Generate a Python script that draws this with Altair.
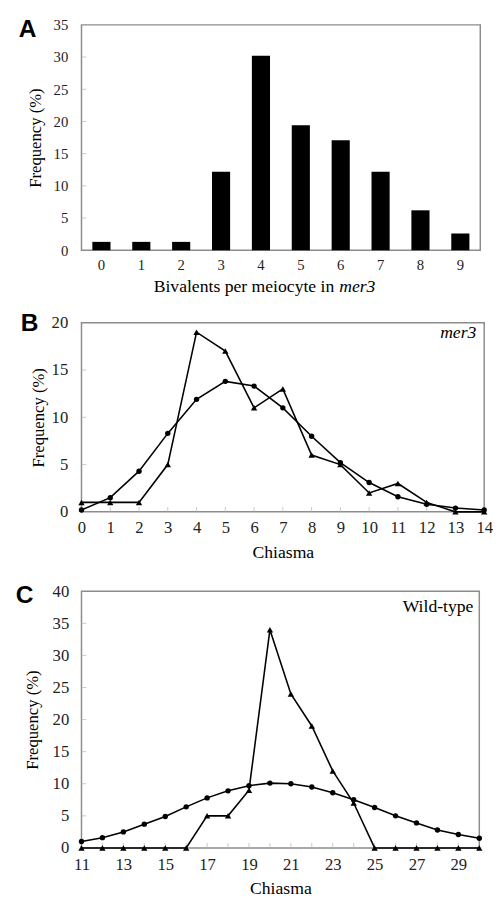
import altair as alt
import pandas as pd

# ---------------- data ----------------
a_bivalents = [0, 1, 2, 3, 4, 5, 6, 7, 8, 9]
a_freq = [1.3, 1.3, 1.3, 12.2, 30.2, 19.4, 17.1, 12.2, 6.2, 2.6]
a_yticks = [0, 5, 10, 15, 20, 25, 30, 35]

b_chiasma = [0, 1, 2, 3, 4, 5, 6, 7, 8, 9, 10, 11, 12, 13, 14]
b_circle = [0.2, 1.5, 4.3, 8.3, 11.9, 13.8, 13.3, 11.0, 8.0, 5.2, 3.1, 1.6, 0.8, 0.4, 0.2]
b_triangle = [1, 1, 1, 5, 19, 17, 11, 13, 6, 5, 2, 3, 1, 0, 0]
b_yticks = [0, 5, 10, 15, 20]

c_chiasma = [11, 12, 13, 14, 15, 16, 17, 18, 19, 20, 21, 22, 23, 24, 25, 26, 27, 28, 29, 30]
c_circle = [1.0, 1.6, 2.5, 3.7, 4.9, 6.4, 7.8, 8.9, 9.7, 10.1, 10.0, 9.5, 8.6, 7.5, 6.3, 5.0, 3.9, 2.8, 2.1, 1.5]
c_triangle = [0, 0, 0, 0, 0, 0, 5, 5, 9, 34, 24, 19, 12, 7, 0, 0, 0, 0, 0, 0]
c_xlabels = [11, 13, 15, 17, 19, 21, 23, 25, 27, 29]
c_yticks = [0, 5, 10, 15, 20, 25, 30, 35, 40]

SERIF = "Liberation Serif"
SANS = "Liberation Sans"
FRAME = "#8c8c8c"
TICKC = "#b4b4b4"


def letter(ch, x, y):
    return alt.Chart(pd.DataFrame({"t": [ch]})).mark_text(
        text=ch, font=SANS, fontWeight="bold", fontSize=25, align="left",
        baseline="alphabetic", color="black"
    ).encode(x=alt.value(x), y=alt.value(y))


def label(txt, x, y, align="right", italic=False, baseline="alphabetic", size=18):
    kw = dict(text=txt, font=SERIF, fontSize=size, align=align, baseline=baseline, color="black")
    if italic:
        kw["fontStyle"] = "italic"
    return alt.Chart(pd.DataFrame({"t": [txt]})).mark_text(**kw).encode(
        x=alt.value(x), y=alt.value(y))


def yaxis(vals, size, pad, tpad):
    return alt.Axis(values=vals, title="Frequency (%)", titleFont=SERIF, titleFontSize=17,
                    titleFontWeight="normal", titleColor="black", titlePadding=tpad,
                    labelFont=SERIF, labelFontSize=size, labelColor="#222", labelPadding=pad,
                    ticks=False, domain=False, grid=False, labelFlush=False, labelOverlap=False)


def xaxis(vals, size, pad, tpad):
    return alt.Axis(values=vals, title="Chiasma", titleFont=SERIF, titleFontSize=18,
                    titleFontWeight="normal", titleColor="black", titlePadding=tpad,
                    labelFont=SERIF, labelFontSize=size, labelColor="#222", labelPadding=pad,
                    ticks=False, domain=False, grid=False, labelFlush=False, labelOverlap=False,
                    labelAngle=0)


# ---------------- panel A ----------------
WA, HA = 407, 230
dfA = pd.DataFrame({"bivalents": a_bivalents, "freq": a_freq})
yA_scale = alt.Scale(domain=[0, 35], nice=False)
yA_axis = yaxis(a_yticks, 15, 14, 9)
barsA = alt.Chart(dfA).mark_bar(color="black", size=18.5).encode(
    x=alt.X("bivalents:O", scale=alt.Scale(paddingInner=0, paddingOuter=0),
            axis=alt.Axis(title=None, labelFont=SERIF, labelFontSize=15, labelColor="#222",
                          labelPadding=7.5, ticks=False, domain=False, grid=False, labelAngle=0)),
    y=alt.Y("freq:Q", scale=yA_scale, axis=yA_axis),
)
ticksA = alt.Chart(pd.DataFrame({"freq": a_yticks[1:-1]})).mark_tick(
    orient="horizontal", color=TICKC, size=5, thickness=1
).encode(x=alt.value(2.5), y=alt.Y("freq:Q", scale=yA_scale, axis=yA_axis))
chartA = alt.layer(
    ticksA, barsA,
    letter("A", -64, 12),
    label("Bivalents per meiocyte in", 258, 273, align="right"),
    label("mer3", 263, 273, align="left", italic=True),
).properties(width=WA, height=HA)

# ---------------- panel B ----------------
WB, HB = 411, 193
dfB = pd.DataFrame({
    "chiasma": b_chiasma + b_chiasma,
    "freq": b_circle + b_triangle,
    "series": ["circle"] * len(b_chiasma) + ["triangle"] * len(b_chiasma),
})
xB_scale = alt.Scale(domain=[0, 14], nice=False)
yB_scale = alt.Scale(domain=[0, 20], nice=False)
xB_axis = xaxis(b_chiasma, 17, 8, 9)
yB_axis = yaxis(b_yticks, 17, 14, 4)
shape_enc = alt.Shape("series:N", scale=alt.Scale(domain=["circle", "triangle"],
                                                   range=["circle", "triangle-up"]), legend=None)
size_enc = alt.Size("series:N", scale=alt.Scale(domain=["circle", "triangle"], range=[30, 42]),
                    legend=None)
linesB = alt.Chart(dfB).mark_line(color="black", strokeWidth=1.6).encode(
    x=alt.X("chiasma:Q", scale=xB_scale, axis=xB_axis),
    y=alt.Y("freq:Q", scale=yB_scale, axis=yB_axis),
    detail="series:N",
)
pointsB = alt.Chart(dfB).mark_point(filled=True, color="black", opacity=1).encode(
    x=alt.X("chiasma:Q", scale=xB_scale, axis=xB_axis),
    y=alt.Y("freq:Q", scale=yB_scale, axis=yB_axis),
    shape=shape_enc, size=size_enc,
)
yticksB = alt.Chart(pd.DataFrame({"freq": b_yticks[1:-1]})).mark_tick(
    orient="horizontal", color=TICKC, size=5, thickness=1
).encode(x=alt.value(2.5), y=alt.Y("freq:Q", scale=yB_scale, axis=yB_axis))
xticksB = alt.Chart(pd.DataFrame({"chiasma": b_chiasma[1:-1]})).mark_tick(
    orient="vertical", color=TICKC, size=5, thickness=1
).encode(x=alt.X("chiasma:Q", scale=xB_scale, axis=xB_axis), y=alt.value(HB - 2.5))
chartB = alt.layer(
    yticksB, xticksB, linesB, pointsB,
    letter("B", -62, 8.3),
    label("mer3", WB - 8, 16, align="right", italic=True),
).properties(width=WB, height=HB)

# ---------------- panel C ----------------
WC, HC = 406, 262
dfC = pd.DataFrame({
    "chiasma": c_chiasma + c_chiasma,
    "freq": c_circle + c_triangle,
    "series": ["circle"] * len(c_chiasma) + ["triangle"] * len(c_chiasma),
})
xC_scale = alt.Scale(domain=[11, 30], nice=False)
yC_scale = alt.Scale(domain=[0, 40], nice=False)
xC_axis = xaxis(c_xlabels, 17, 9, 8)
yC_axis = yaxis(c_yticks, 17, 13, 11)
linesC = alt.Chart(dfC).mark_line(color="black", strokeWidth=1.6).encode(
    x=alt.X("chiasma:Q", scale=xC_scale, axis=xC_axis),
    y=alt.Y("freq:Q", scale=yC_scale, axis=yC_axis),
    detail="series:N",
)
pointsC = alt.Chart(dfC).mark_point(filled=True, color="black", opacity=1).encode(
    x=alt.X("chiasma:Q", scale=xC_scale, axis=xC_axis),
    y=alt.Y("freq:Q", scale=yC_scale, axis=yC_axis),
    shape=shape_enc, size=size_enc,
)
yticksC = alt.Chart(pd.DataFrame({"freq": c_yticks[1:-1]})).mark_tick(
    orient="horizontal", color=TICKC, size=5, thickness=1
).encode(x=alt.value(2.5), y=alt.Y("freq:Q", scale=yC_scale, axis=yC_axis))
xticksC = alt.Chart(pd.DataFrame({"chiasma": c_chiasma[1:-1]})).mark_tick(
    orient="vertical", color=TICKC, size=5, thickness=1
).encode(x=alt.X("chiasma:Q", scale=xC_scale, axis=xC_axis), y=alt.value(HC - 2.5))
chartC = alt.layer(
    yticksC, xticksC, linesC, pointsC,
    letter("C", -67, 12),
    label("Wild-type", WC - 6, 21, align="right"),
).properties(width=WC, height=HC)

chart = alt.vconcat(
    alt.vconcat(chartA, chartB, spacing=13),
    chartC,
    spacing=19,
).configure_view(stroke=FRAME, strokeWidth=1.5).properties(
    padding={"left": 7, "top": -1, "right": 0, "bottom": -4},
    background="white",
)

chart.save("out.html", embed_options={"renderer": "svg", "actions": False})
